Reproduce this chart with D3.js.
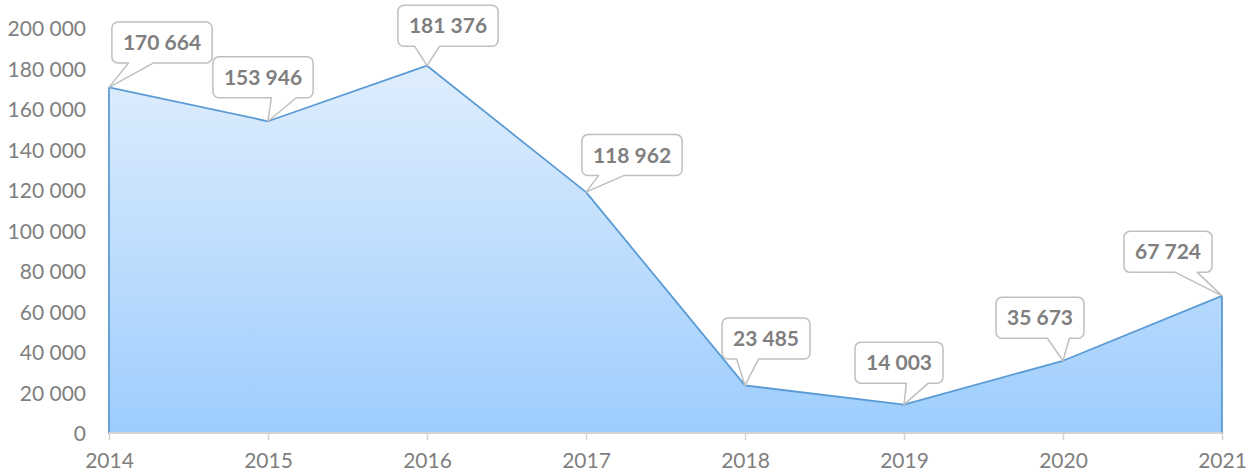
<!DOCTYPE html>
<html>
<head>
<meta charset="utf-8">
<script src="https://cdn.jsdelivr.net/npm/d3@7"></script>
<style>
  html, body { margin: 0; padding: 0; background: #fff; }
  svg { display: block; }
</style>
</head>
<body>
<svg id="chart" width="1248" height="473"></svg>
<script>
// Yearly values
const years = ["2014", "2015", "2016", "2017", "2018", "2019", "2020", "2021"];
const values = [170664, 153946, 181376, 118962, 23485, 14003, 35673, 67724];
const yTicks = [0, 20000, 40000, 60000, 80000, 100000, 120000, 140000, 160000, 180000, 200000];

// Callout box centre offsets from each point (px)
const calloutOffsets = [[53, -45], [-5, -44], [21, -40], [46, -37], [21, -47], [-5, -42], [-23, -43], [-54, -44]];

const W = 1248, H = 473;
const margin = { left: 109, right: 26, top: 28, bottom: 40 };
const svg = d3.select("#chart");

const fmt = v => d3.format(",")(v).replace(/,/g, " ");

const x = d3.scalePoint().domain(years).range([margin.left, W - margin.right]);
const y = d3.scaleLinear().domain([0, 200000]).range([H - margin.bottom, margin.top]);

const defs = svg.append("defs");
const grad = defs.append("linearGradient")
  .attr("id", "areaFill")
  .attr("gradientUnits", "userSpaceOnUse")
  .attr("x1", 0).attr("x2", 0)
  .attr("y1", y(200000)).attr("y2", y(0));
grad.append("stop").attr("offset", 0).attr("stop-color", "#e6f1fd");
grad.append("stop").attr("offset", 1).attr("stop-color", "#9dcdfd");

const data = years.map((yr, i) => ({ year: yr, value: values[i] }));

// Area
const area = d3.area()
  .x(d => x(d.year))
  .y0(y(0))
  .y1(d => y(d.value));
svg.append("path")
  .datum(data)
  .attr("d", area)
  .attr("fill", "url(#areaFill)")
  .attr("stroke", "#5b9bd5")
  .attr("stroke-width", 1.8)
  .attr("stroke-linejoin", "round");

// Y axis labels (no axis line)
const yAxis = d3.axisLeft(y).tickValues(yTicks).tickFormat(fmt).tickSize(0).tickPadding(0);
const gy = svg.append("g")
  .attr("transform", `translate(${margin.left - 23},0)`)
  .call(yAxis);
gy.select(".domain").remove();
gy.selectAll("text")
  .attr("fill", "#7f7f7f")
  .attr("font-family", "Lato, 'Liberation Sans', sans-serif")
  .attr("font-size", 21)
  .attr("dy", "0.36em");

// X axis
const xAxis = d3.axisBottom(x).tickSize(7).tickPadding(13);
const gx = svg.append("g")
  .attr("transform", `translate(0,${y(0)})`)
  .call(xAxis);
gx.select(".domain")
  .attr("stroke", "#d3d3d3")
  .attr("stroke-width", 2)
  .attr("d", `M${x(years[0])},0H${x(years[years.length - 1])}`);
gx.selectAll(".tick line").attr("stroke", "#d3d3d3").attr("stroke-width", 1.5);
gx.selectAll("text")
  .attr("fill", "#7f7f7f")
  .attr("font-family", "Lato, 'Liberation Sans', sans-serif")
  .attr("font-size", 21);

// Callout labels
const boxH = 41, padX = 11, r = 6;
const callouts = svg.append("g");
data.forEach((d, i) => {
  const px = x(d.year), py = y(d.value);
  const [dx, dy] = calloutOffsets[i];
  const cx = px + dx, cy = py + dy;
  const g = callouts.append("g");
  const label = g.append("text")
    .attr("x", cx).attr("y", cy)
    .attr("text-anchor", "middle")
    .attr("dy", "0.36em")
    .attr("fill", "#7f7f7f")
    .attr("font-family", "Lato, 'Liberation Sans', sans-serif")
    .attr("font-weight", "bold")
    .attr("font-size", 21)
    .text(fmt(d.value));
  const tw = label.node().getComputedTextLength();
  const bw = tw + 2 * padX;
  const L = cx - bw / 2, R = cx + bw / 2, T = cy - boxH / 2, B = cy + boxH / 2;
  // wedge base on the bottom edge, on the side nearest the point
  const f = px < cx ? [1 / 6, 5 / 12] : [7 / 12, 5 / 6];
  const b1 = L + bw * f[0], b2 = L + bw * f[1];
  const p = d3.path();
  p.moveTo(L + r, T);
  p.lineTo(R - r, T);
  p.arcTo(R, T, R, T + r, r);
  p.lineTo(R, B - r);
  p.arcTo(R, B, R - r, B, r);
  p.lineTo(b2, B);
  p.lineTo(px, py);
  p.lineTo(b1, B);
  p.lineTo(L + r, B);
  p.arcTo(L, B, L, B - r, r);
  p.lineTo(L, T + r);
  p.arcTo(L, T, L + r, T, r);
  p.closePath();
  g.insert("path", "text")
    .attr("d", p.toString())
    .attr("fill", "#ffffff")
    .attr("stroke", "#bfbfbf")
    .attr("stroke-width", 1.5)
    .attr("stroke-linejoin", "round");
});
</script>
</body>
</html>
